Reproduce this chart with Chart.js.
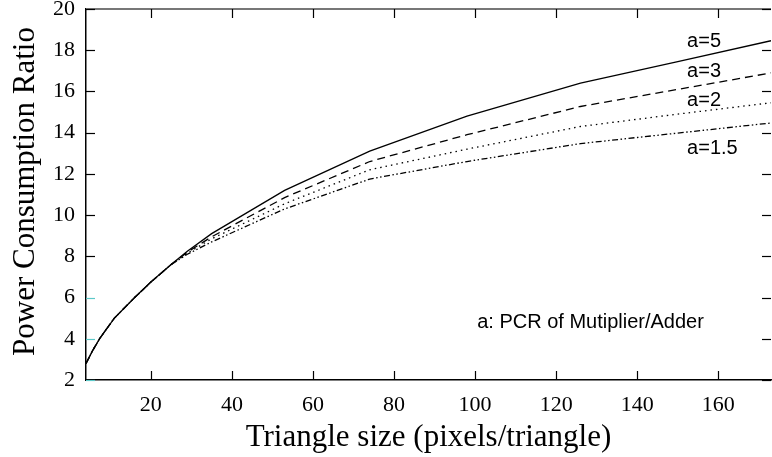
<!DOCTYPE html>
<html>
<head>
<meta charset="utf-8">
<script src="https://cdn.jsdelivr.net/npm/chart.js@4.4.0/dist/chart.umd.min.js"></script>
<style>
  html, body { margin: 0; padding: 0; background: #fff; }
  #wrap { width: 772px; height: 457px; }
</style>
</head>
<body>
<div id="wrap"><canvas id="chart" width="772" height="457"></canvas></div>
<script>
// triangle size (pixels/triangle)
const sizes = [4, 5.7, 7.5, 11, 16, 20, 25, 29, 35, 53, 74, 98, 126, 150, 173];

// power consumption ratio, one list per multiplier/adder PCR
const pcr5  = [2.8, 3.45, 4.05, 5.0, 6.0, 6.75, 7.6, 8.25, 9.1, 11.2, 13.1, 14.8, 16.4, 17.45, 18.46];
const pcr3  = [2.8, 3.45, 4.05, 5.0, 6.0, 6.75, 7.6, 8.2, 8.95, 10.85, 12.6, 13.9, 15.27, 16.1, 16.9];
const pcr2  = [2.8, 3.45, 4.05, 5.0, 6.0, 6.75, 7.6, 8.15, 8.85, 10.55, 12.2, 13.2, 14.3, 14.9, 15.45];
const pcr15 = [2.8, 3.45, 4.05, 5.0, 6.0, 6.75, 7.6, 8.1, 8.7, 10.3, 11.75, 12.6, 13.47, 13.98, 14.47];

const xTicks = [20, 40, 60, 80, 100, 120, 140, 160];
const yTicks = [2, 4, 6, 8, 10, 12, 14, 16, 18, 20];

// text placed in data coordinates
const notes = [
  { text: "a=5",   x: 152.3, y: 18.41 },
  { text: "a=3",   x: 152.3, y: 16.96 },
  { text: "a=2",   x: 152.3, y: 15.58 },
  { text: "a=1.5", x: 152.3, y: 13.21 },
  { text: "a: PCR of Mutiplier/Adder", x: 100.5, y: 4.77 }
];

function pts(ys) {
  return sizes.map((x, i) => ({ x: x, y: ys[i] }));
}

const serif = "'Liberation Serif', 'Times New Roman', serif";
const sans = "'Liberation Sans', Arial, sans-serif";

// inward tick marks on all four sides, grey top frame, notes and y title
const frame = {
  id: "frame",
  afterDraw(chart) {
    const ctx = chart.ctx;
    const a = chart.chartArea;
    const xs = chart.scales.x, ys = chart.scales.y;
    const len = 9;
    ctx.save();

    ctx.strokeStyle = "#777";
    ctx.lineWidth = 2;
    ctx.beginPath();
    ctx.moveTo(a.left, a.top);
    ctx.lineTo(a.right, a.top);
    ctx.stroke();

    ctx.lineWidth = 1.2;
    ctx.strokeStyle = "#000";
    xTicks.forEach(v => {
      const px = Math.round(xs.getPixelForValue(v)) + 0.5;
      ctx.beginPath();
      ctx.moveTo(px, a.bottom);
      ctx.lineTo(px, a.bottom - len);
      ctx.moveTo(px, a.top);
      ctx.lineTo(px, a.top + len);
      ctx.stroke();
    });
    yTicks.forEach(v => {
      const py = Math.round(ys.getPixelForValue(v)) + 0.5;
      ctx.strokeStyle = (v === 4 || v === 6 || v === 2) ? "#5cc8c8" : "#000";
      ctx.beginPath();
      ctx.moveTo(a.left, py);
      ctx.lineTo(a.left + len, py);
      ctx.stroke();
      ctx.strokeStyle = "#000";
      ctx.beginPath();
      ctx.moveTo(a.right, py);
      ctx.lineTo(a.right - len, py);
      ctx.stroke();
    });

    ctx.fillStyle = "#000";
    ctx.font = "20px " + sans;
    ctx.textAlign = "left";
    ctx.textBaseline = "middle";
    notes.forEach(n => {
      ctx.fillText(n.text, xs.getPixelForValue(n.x), ys.getPixelForValue(n.y));
    });

    // y axis title
    ctx.translate(26, 191.5);
    ctx.rotate(-Math.PI / 2);
    ctx.textAlign = "center";
    ctx.font = "31px " + serif;
    ctx.fillText("Power Consumption Ratio", 0, 0);
    ctx.restore();
  }
};

function line(label, data, dash) {
  return {
    label: label,
    data: pts(data),
    borderColor: "#000",
    borderWidth: 1.3,
    borderDash: dash,
    pointRadius: 0,
    tension: 0,
    fill: false
  };
}

new Chart(document.getElementById("chart"), {
  type: "line",
  data: {
    datasets: [
      line("a=5", pcr5, []),
      line("a=3", pcr3, [8, 5]),
      line("a=2", pcr2, [1.5, 4]),
      line("a=1.5", pcr15, [6, 2.5, 1.5, 2.5, 1.5, 2.5])
    ]
  },
  options: {
    responsive: false,
    animation: false,
    layout: { padding: { top: 9, right: 1, left: 0, bottom: 0 } },
    plugins: { legend: { display: false }, tooltip: { enabled: false } },
    scales: {
      x: {
        type: "linear",
        min: 4,
        max: 173,
        afterBuildTicks: s => { s.ticks = xTicks.map(v => ({ value: v })); },
        afterFit: s => { s.height = 77; s.paddingLeft = 0; s.paddingRight = 0; },
        grid: { display: false },
        border: { display: true, color: "#000", width: 1.5 },
        ticks: { color: "#000", padding: 4, maxRotation: 0, font: { family: serif, size: 22 } },
        title: {
          display: true,
          text: "Triangle size (pixels/triangle)",
          color: "#000",
          font: { family: serif, size: 31 },
          padding: { top: 0, bottom: 1 }
        }
      },
      y: {
        min: 2,
        max: 20,
        afterBuildTicks: s => { s.ticks = yTicks.map(v => ({ value: v })); },
        afterFit: s => { s.width = 86; s.paddingTop = 0; s.paddingBottom = 0; },
        grid: { display: false },
        border: { display: true, color: "#000", width: 1.5 },
        ticks: { color: "#000", padding: 3, font: { family: serif, size: 22 } }
      }
    }
  },
  plugins: [frame]
});
</script>
</body>
</html>
